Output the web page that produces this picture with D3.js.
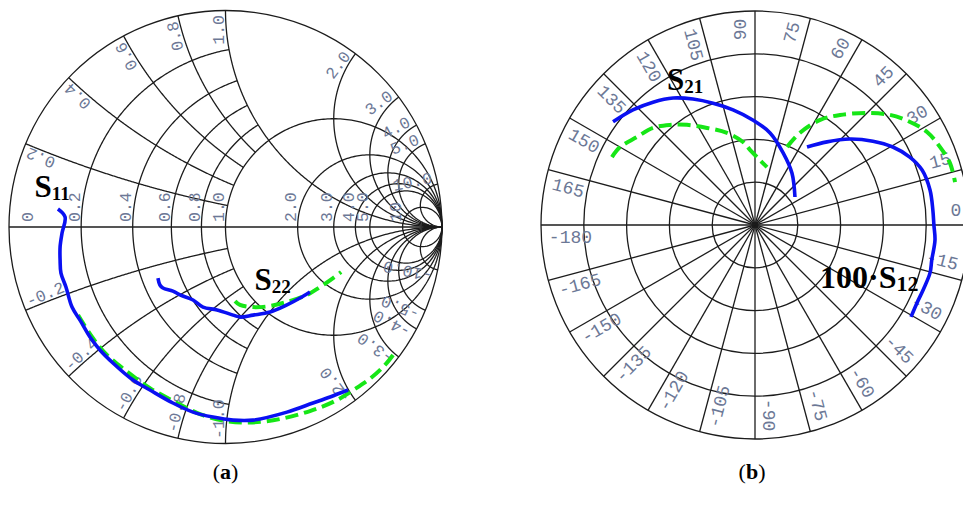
<!DOCTYPE html>
<html>
<head>
<meta charset="utf-8">
<script src="https://cdn.jsdelivr.net/npm/d3@7"></script>
<style>
  body { margin: 0; background: #fff; }
  svg { display: block; }
</style>
</head>
<body>
<svg id="chart" width="963" height="505"></svg>
<script>
// ---------- Smith chart (a): grid values, normalized impedance ----------
const resistanceGrid = [0.2, 0.4, 0.6, 0.8, 1, 2, 3, 4, 5, 10];
const reactanceGrid  = [0.2, 0.4, 0.6, 0.8, 1, 2, 3, 4, 5, 10];
const resistanceTickValues = [0, 0.2, 0.4, 0.6, 0.8, 1, 2, 3, 4, 5, 10];
const resistanceTickLabels = ["0", "0.2", "0.4", "0.6", "0.8", "1.0", "2.0", "3.0", "4.0", "5.0", "10"];
const reactanceTickLabels  = ["0.2", "0.4", "0.6", "0.8", "1.0", "2.0", "3.0", "4.0", "5.0", "10.0"];

// Reflection coefficients (real, imaginary)
const s11MeasRe = [-0.774, -0.741, -0.755, -0.764, -0.764, -0.760, -0.737, -0.709, -0.672, -0.626, -0.580, -0.520, -0.427, -0.349, -0.243, -0.150, -0.058, 0.035, 0.127, 0.284, 0.404, 0.483, 0.566];
const s11MeasIm = [0.083, 0.046, -0.028, -0.092, -0.152, -0.213, -0.277, -0.370, -0.430, -0.508, -0.568, -0.628, -0.707, -0.753, -0.813, -0.855, -0.878, -0.892, -0.892, -0.855, -0.813, -0.785, -0.753];
const s11SimRe = [-0.681, -0.626, -0.557, -0.464, -0.349, -0.233, -0.118, -0.002, 0.113, 0.252, 0.390, 0.506, 0.598, 0.677, 0.737, 0.774];
const s11SimIm = [-0.407, -0.494, -0.582, -0.661, -0.744, -0.808, -0.864, -0.896, -0.903, -0.887, -0.850, -0.804, -0.748, -0.693, -0.637, -0.591];
const s22MeasRe = [-0.312, -0.303, -0.289, -0.243, -0.210, -0.150, -0.104, -0.039, 0.035, 0.067, 0.127, 0.206, 0.284, 0.344, 0.390];
const s22MeasIm = [-0.236, -0.268, -0.282, -0.296, -0.314, -0.337, -0.370, -0.383, -0.407, -0.416, -0.407, -0.393, -0.360, -0.328, -0.300];
const s22SimRe = [0.044, 0.067, 0.127, 0.206, 0.284, 0.376, 0.437, 0.497, 0.534];
const s22SimIm = [-0.342, -0.360, -0.370, -0.365, -0.346, -0.314, -0.277, -0.236, -0.208];

// ---------- Polar chart (b): angles in degrees, magnitudes ----------
const polarRings = [1, 2, 3, 4, 5];
const polarSpokes = d3.range(-180, 180, 15);
const polarTickLabels = ["-180", "-165", "-150", "-135", "-120", "-105", "-90", "-75", "-60", "-45", "-30", "-15",
                         "0", "15", "30", "45", "60", "75", "90", "105", "120", "135", "150", "165"];
const s21MeasAng = [144, 136.7, 129.7, 122.8, 116.2, 109, 100.8, 91, 80.7, 68.7, 54.6, 35];
const s21MeasMag = [4.10, 3.92, 3.73, 3.53, 3.28, 3.01, 2.74, 2.45, 2.18, 1.81, 1.49, 1.14];
const s21SimAng = [154.6, 150, 143.3, 136.4, 130.4, 124.2, 116.3, 106.9, 98.2, 93.8, 85.6, 78.3];
const s21SimMag = [3.70, 3.64, 3.44, 3.29, 3.07, 2.83, 2.53, 2.25, 1.96, 1.76, 1.52, 1.38];
const s12MeasAng = [56.3, 49.1, 42.2, 35.4, 29.5, 23.7, 18.2, 11.3, 4.8, 0, -4.8, -11.2, -15.3, -21.2, -25.7, -30.5];
const s12MeasMag = [2.19, 2.57, 2.99, 3.38, 3.70, 3.95, 4.11, 4.17, 4.17, 4.18, 4.22, 4.21, 4.24, 4.21, 4.20, 4.23];
const s12SimAng = [67.7, 64.1, 58.2, 52.3, 45, 39.2, 33.6, 28.4, 22.9, 17.6, 12.1];
const s12SimMag = [1.97, 2.39, 2.89, 3.25, 3.70, 4.07, 4.35, 4.57, 4.69, 4.78, 4.78];

// ---------- styles ----------
const GRID = "#1c1c1c";
const LABEL = "#6c7896";
const BLUE = "#0a10f2";
const GREEN = "#16e616";
const MONO = "'Liberation Mono', 'DejaVu Sans Mono', monospace";
const SERIF = "'Liberation Serif', 'Times New Roman', serif";

const svg = d3.select("#chart");
svg.append("rect").attr("width", 963).attr("height", 505).attr("fill", "#fff");

// ======================= Smith chart =======================
const sc = { cx: 225.5, cy: 227, R: 216.5 };
const gx = d3.scaleLinear().domain([-1, 1]).range([sc.cx - sc.R, sc.cx + sc.R]);
const gy = d3.scaleLinear().domain([-1, 1]).range([sc.cy + sc.R, sc.cy - sc.R]);

// z = a + jb  ->  reflection coefficient
function gammaOf(a, b) {
  const d = (a + 1) * (a + 1) + b * b;
  return [(a * a - 1 + b * b) / d, (2 * b) / d];
}
const gammaLine = d3.line().x(p => gx(p[0])).y(p => gy(p[1]));

const smith = svg.append("g").attr("class", "smith");
const grid = smith.append("g").attr("fill", "none").attr("stroke", GRID).attr("stroke-width", 1.3);

// outer |Γ| = 1 circle and real axis
grid.append("circle").attr("cx", gx(0)).attr("cy", gy(0)).attr("r", gx(1) - gx(0));
grid.append("line").attr("x1", gx(-1)).attr("x2", gx(1)).attr("y1", gy(0)).attr("y2", gy(0));

// constant-resistance circles (small r limited to |x| <= 1)
resistanceGrid.forEach(r => {
  const xMax = r < 1 ? 1 : Infinity;
  const tMax = Math.atan(xMax) - (xMax === Infinity ? 1e-6 : 0);
  const pts = d3.range(0, 401).map(i => {
    const t = -tMax + (2 * tMax * i) / 400;
    return gammaOf(r, Math.tan(t));
  });
  grid.append("path").attr("d", gammaLine(pts));
});

// constant-reactance arcs (small x limited to r <= 1)
reactanceGrid.forEach(x => {
  const rMax = x < 1 ? 1 : Infinity;
  const tMax = Math.atan(rMax) - (rMax === Infinity ? 1e-6 : 0);
  [1, -1].forEach(sgn => {
    const pts = d3.range(0, 301).map(i => gammaOf(Math.tan((tMax * i) / 300), sgn * x));
    grid.append("path").attr("d", gammaLine(pts));
  });
});

// resistance labels along the real axis
const smithText = smith.append("g").attr("font-family", MONO).attr("font-size", 16.5).attr("fill", LABEL);
resistanceTickValues.forEach((r, i) => {
  const lx = Math.max(gx((r - 1) / (r + 1)), gx(-1) + 25) - 1.5;
  smithText.append("text")
    .attr("transform", `translate(${lx},${gy(0) - 5}) rotate(-90)`)
    .attr("text-anchor", "start")
    .text(resistanceTickLabels[i]);
});

// reactance labels just inside the outer circle
const labelRadius = 212 / sc.R;
reactanceGrid.forEach((x, i) => {
  [1, -1].forEach(sgn => {
    const g = gammaOf(0, sgn * x);
    const th = Math.atan2(g[1], g[0]);
    const thDeg = th * 180 / Math.PI;
    const rot = sgn > 0 ? -thDeg : -(thDeg + 180);
    const rr = rot * Math.PI / 180;
    const ux = Math.sin(rr), uy = -Math.cos(rr);
    const px = gx(labelRadius * Math.cos(th)) + 2 * ux;
    const py = gy(labelRadius * Math.sin(th)) + 2 * uy;
    smithText.append("text")
      .attr("transform", `translate(${px},${py}) rotate(${rot})`)
      .attr("text-anchor", sgn > 0 ? "end" : "start")
      .text((sgn > 0 ? "" : "-") + reactanceTickLabels[i]);
  });
});

// traces
const zipGamma = (re, im) => re.map((v, i) => [v, im[i]]);
const traceLine = d3.line().x(p => gx(p[0])).y(p => gy(p[1])).curve(d3.curveCatmullRom);
const traces = smith.append("g").attr("fill", "none").attr("stroke-linecap", "butt").attr("stroke-linejoin", "round");
traces.append("path").attr("d", traceLine(zipGamma(s11SimRe, s11SimIm)))
  .attr("stroke", GREEN).attr("stroke-width", 4).attr("stroke-dasharray", "13,6");
traces.append("path").attr("d", traceLine(zipGamma(s11MeasRe, s11MeasIm)))
  .attr("stroke", BLUE).attr("stroke-width", 3.6);
traces.append("path").attr("d", traceLine(zipGamma(s22SimRe, s22SimIm)))
  .attr("stroke", GREEN).attr("stroke-width", 4).attr("stroke-dasharray", "13,6");
traces.append("path").attr("d", traceLine(zipGamma(s22MeasRe, s22MeasIm)))
  .attr("stroke", BLUE).attr("stroke-width", 3.6);

// trace names
function paramLabel(parent, x, y, main, sub, size, subSize) {
  const t = parent.append("text").attr("x", x).attr("y", y)
    .attr("font-family", SERIF).attr("font-weight", "bold").attr("font-size", size).attr("fill", "#000");
  t.append("tspan").text(main);
  t.append("tspan").attr("font-size", subSize).attr("dy", 3).text(sub);
}
paramLabel(smith, sc.cx - 191, sc.cy - 30, "S", "11", 31, 19);
paramLabel(smith, sc.cx + 29, sc.cy + 63, "S", "22", 31, 19);

// ======================= Polar chart =======================
const pc = { cx: 755, cy: 225, R: 214 };
const rScale = d3.scaleLinear().domain([0, 5]).range([0, pc.R]);
const polar = svg.append("g").attr("class", "polar").attr("transform", `translate(${pc.cx},${pc.cy})`);
const pgrid = polar.append("g").attr("fill", "none").attr("stroke", GRID).attr("stroke-width", 1.3);

polarRings.forEach(v => pgrid.append("circle").attr("r", rScale(v)));
polarSpokes.forEach(a => {
  const t = a * Math.PI / 180;
  pgrid.append("line").attr("x1", 0).attr("y1", 0)
    .attr("x2", rScale(5) * Math.cos(t)).attr("y2", -rScale(5) * Math.sin(t));
});

// angle labels
const polarText = polar.append("g").attr("font-family", MONO).attr("font-size", 18).attr("fill", LABEL);
polarSpokes.forEach((a, i) => {
  const label = polarTickLabels[i];
  const rot = Math.abs(a) <= 90 ? -a : (a > 0 ? 180 - a : -180 - a);
  const t = (a + 4) * Math.PI / 180;
  const rr = 207 - label.length * 5.5;
  polarText.append("text")
    .attr("transform", `translate(${rr * Math.cos(t)},${-rr * Math.sin(t)}) rotate(${rot})`)
    .attr("text-anchor", "middle")
    .attr("dominant-baseline", "central")
    .text(label);
});

// polar traces (d3 radial angle: clockwise from 12 o'clock)
const zipPolar = (ang, mag) => ang.map((a, i) => ({ a, m: mag[i] }));
const radial = d3.lineRadial()
  .angle(d => (90 - d.a) * Math.PI / 180)
  .radius(d => rScale(d.m))
  .curve(d3.curveCatmullRom);
const ptraces = polar.append("g").attr("fill", "none");
ptraces.append("path").attr("d", radial(zipPolar(s21SimAng, s21SimMag)))
  .attr("stroke", GREEN).attr("stroke-width", 4).attr("stroke-dasharray", "13,6");
ptraces.append("path").attr("d", radial(zipPolar(s21MeasAng, s21MeasMag)))
  .attr("stroke", BLUE).attr("stroke-width", 3.6);
ptraces.append("path").attr("d", radial(zipPolar(s12SimAng, s12SimMag)))
  .attr("stroke", GREEN).attr("stroke-width", 4).attr("stroke-dasharray", "13,6");
ptraces.append("path").attr("d", radial(zipPolar(s12MeasAng, s12MeasMag)))
  .attr("stroke", BLUE).attr("stroke-width", 3.6);

paramLabel(polar, -88, -135, "S", "21", 31, 19);
paramLabel(polar, 65, 63, "100\u00B7S", "12", 32, 22);

// ======================= captions =======================
function caption(x, letter) {
  const t = svg.append("text").attr("x", x).attr("y", 479)
    .attr("text-anchor", "middle").attr("font-family", SERIF).attr("font-size", 22).attr("fill", "#000");
  t.append("tspan").text("(");
  t.append("tspan").attr("font-weight", "bold").text(letter);
  t.append("tspan").text(")");
}
caption(sc.cx, "a");
caption(pc.cx - 3, "b");
</script>
</body>
</html>
